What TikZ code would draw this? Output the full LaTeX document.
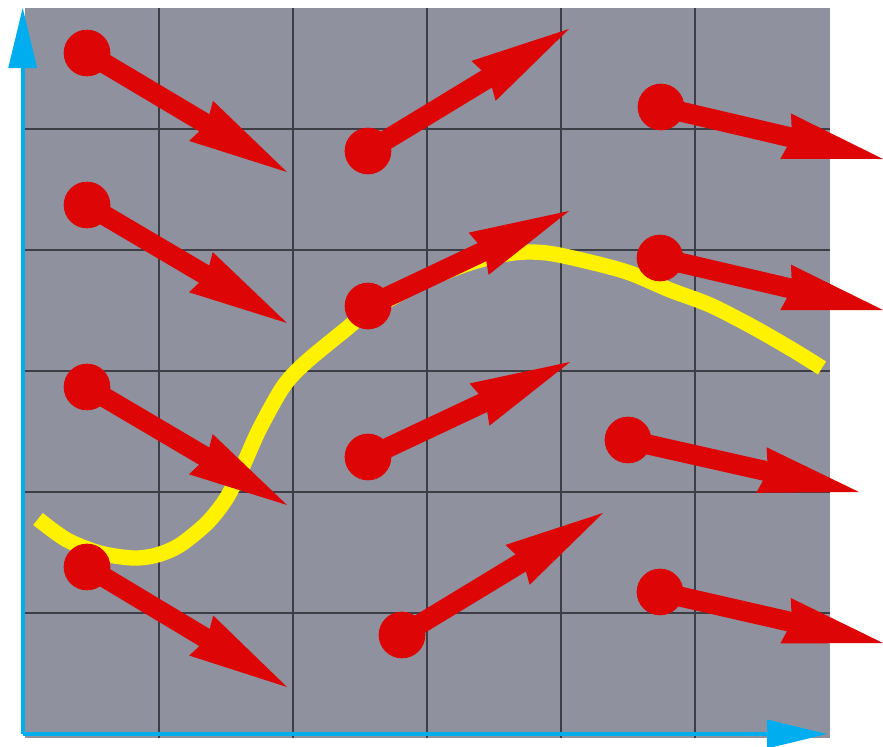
\documentclass[tikz,border=0pt]{standalone}
\usetikzlibrary{arrows.meta}
\definecolor{vfPanel}{HTML}{8F919E}
\definecolor{vfGrid}{HTML}{3C3D45}
\definecolor{vfAxis}{HTML}{00AEEF}
\definecolor{vfRed}{HTML}{DD0505}
\definecolor{vfPath}{HTML}{FFF200}
\tikzset{
  vf panel/.style={fill=vfPanel},
  vf grid/.style={draw=vfGrid, line width=.045cm},
  vf axis/.style={
    draw=vfAxis,
    line width=.12cm,
    -{Triangle[length=1.8cm,width=.87cm,line width=0pt]}
  },
  vf path/.style={draw=vfPath, line width=.46cm, line join=round},
  vf dot/.style={circle, fill=vfRed, inner sep=0pt, minimum size=1.4cm},
  vf vector/.style={
    draw=vfRed,
    line width=.6cm,
    -{Stealth[length=3cm,width=1.4cm,inset=.2cm,line width=0pt]}
  }
}

\begin{document}
\begin{tikzpicture}[x=.03cm,y=-.03cm]
  \useasboundingbox (0,0) rectangle (883,747);
  \path[vf panel] (25,8) rectangle (830,738);
  \foreach \gx in {159,293,427,561,695}
    \draw[vf grid] (\gx,8) -- (\gx,738);
  \foreach \gy in {129,250,371,492,613}
    \draw[vf grid] (25,\gy) -- (830,\gy);

  % axes
  \coordinate (O) at (22.7,734);
  \coordinate (Ytip) at (22.7,8);
  \coordinate (Xtip) at (827,734);
  \draw[vf axis] (O) -- (Ytip);
  \draw[vf axis] (O) -- (Xtip);

  % trajectory
  \draw[vf path] plot[smooth, tension=.5] coordinates {
    (38,519) (67,540) (100,553) (133,558) (157,555) (180,545) (207,523)
    (226,499) (242,468) (259,430) (283,387) (305,363) (345,330) (368,312)
    (420,283) (470,263) (513,253) (547,253) (590,262) (630,273) (670,290)
    (710,305) (753,327) (793,350) (822,368)};

  % field vectors
  \foreach \n/\sx/\sy/\ex/\ey in {
      1/87/53/287/172, 2/87/205/287/323, 3/87/387/287/505, 4/87/567/287/687,
      5/368/151/569/29, 6/368/306/569/211, 7/368/457/570/362, 8/402/635/603/513,
      9/661/107/883/159, 10/660/258/883/310, 11/628/440/859/492, 12/660/592/883/643} {
    \node[vf dot] (s\n) at (\sx,\sy) {};
    \coordinate (e\n) at (\ex,\ey);
    \draw[vf vector] (s\n.center) -- (e\n);
  }
\end{tikzpicture}
\end{document}
